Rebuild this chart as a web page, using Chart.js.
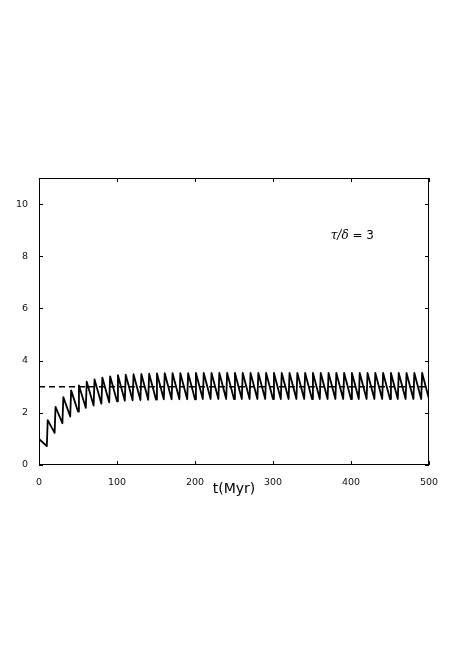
<!DOCTYPE html>
<html>
<head>
<meta charset="utf-8">
<script src="https://cdn.jsdelivr.net/npm/chart.js@4/dist/chart.umd.min.js"></script>
<style>
  html, body { margin: 0; padding: 0; background: #fff; }
  canvas { display: block; }
</style>
</head>
<body>
<canvas id="sawtooth" width="463" height="656"></canvas>
<script>
// kick times (Myr), one injection every 10 Myr
var kickTimes = [0, 10, 20, 30, 40, 50, 60, 70, 80, 90,
    100, 110, 120, 130, 140, 150, 160, 170, 180, 190,
    200, 210, 220, 230, 240, 250, 260, 270, 280, 290,
    300, 310, 320, 330, 340, 350, 360, 370, 380, 390,
    400, 410, 420, 430, 440, 450, 460, 470, 480, 490, 500];

// value right after each kick
var peaks = [1.00, 1.72, 2.23, 2.60, 2.86, 3.05, 3.19, 3.28, 3.35, 3.40,
    3.44, 3.46, 3.48, 3.49, 3.50, 3.51, 3.52, 3.52, 3.52, 3.52,
    3.53, 3.53, 3.53, 3.53, 3.53, 3.53, 3.53, 3.53, 3.53, 3.53,
    3.53, 3.53, 3.53, 3.53, 3.53, 3.53, 3.53, 3.53, 3.53, 3.53,
    3.53, 3.53, 3.53, 3.53, 3.53, 3.53, 3.53, 3.53, 3.53, 3.53];

// value just before the next kick
var troughs = [0.72, 1.23, 1.60, 1.86, 2.05, 2.19, 2.28, 2.35, 2.40, 2.44,
    2.46, 2.48, 2.49, 2.50, 2.51, 2.52, 2.52, 2.52, 2.52, 2.52,
    2.53, 2.53, 2.53, 2.53, 2.53, 2.53, 2.53, 2.53, 2.53, 2.53,
    2.53, 2.53, 2.53, 2.53, 2.53, 2.53, 2.53, 2.53, 2.53, 2.53,
    2.53, 2.53, 2.53, 2.53, 2.53, 2.53, 2.53, 2.53, 2.53, 2.53];

var riseTime = 1.2;    // Myr, the kicks are not quite vertical in the plot
var steadyLevel = 3;   // tau/delta
var xTicks = [0, 100, 200, 300, 400, 500];
var yTicks = [0, 2, 4, 6, 8, 10];

var sawPoints = [];
for (let k = 0; k < peaks.length; k++) {
    sawPoints.push({x: k === 0 ? kickTimes[k] : kickTimes[k] + riseTime, y: peaks[k]});
    sawPoints.push({x: kickTimes[k + 1], y: troughs[k]});
}

var tickFont = {family: 'DejaVu Sans', size: 9.5};

// matplotlib-style box with inward ticks on all four sides
const boxTicks = {
    id: 'boxTicks',
    afterDraw(chart) {
        const ctx = chart.ctx;
        const a = chart.chartArea;
        const xs = chart.scales.x, ys = chart.scales.y;
        ctx.save();
        ctx.strokeStyle = '#000';
        ctx.lineWidth = 1;
        ctx.strokeRect(a.left + 0.5, a.top + 0.5, a.right - a.left - 1, a.bottom - a.top - 1);
        ctx.beginPath();
        xTicks.forEach(v => {
            const px = Math.round(xs.getPixelForValue(v)) + 0.5;
            ctx.moveTo(px, a.bottom); ctx.lineTo(px, a.bottom - 4);
            ctx.moveTo(px, a.top); ctx.lineTo(px, a.top + 4);
        });
        yTicks.forEach(v => {
            const py = Math.round(ys.getPixelForValue(v)) + 0.5;
            ctx.moveTo(a.left, py); ctx.lineTo(a.left + 4, py);
            ctx.moveTo(a.right, py); ctx.lineTo(a.right - 4, py);
        });
        ctx.stroke();

        // annotation
        const tx = xs.getPixelForValue(374);
        const ty = ys.getPixelForValue(8.8);
        ctx.fillStyle = '#000';
        ctx.textBaseline = 'middle';
        ctx.textAlign = 'left';
        ctx.font = 'italic 12px "DejaVu Serif"';
        const greek = '\u03C4/\u03B4';
        ctx.fillText(greek, tx, ty);
        const w = ctx.measureText(greek).width;
        ctx.font = '12px "DejaVu Sans"';
        ctx.fillText(' = 3', tx + w, ty);
        ctx.restore();
    }
};

new Chart(document.getElementById('sawtooth').getContext('2d'), {
    type: 'line',
    data: {
        datasets: [{
            data: sawPoints,
            borderColor: '#000',
            borderWidth: 1.8,
            borderJoinStyle: 'round',
            borderCapStyle: 'butt',
            pointRadius: 0,
            tension: 0,
            fill: false
        }, {
            data: [{x: kickTimes[0], y: steadyLevel}, {x: kickTimes[kickTimes.length - 1], y: steadyLevel}],
            borderColor: '#000',
            borderWidth: 1.5,
            borderDash: [6, 4],
            pointRadius: 0,
            fill: false
        }]
    },
    options: {
        responsive: false,
        devicePixelRatio: 1,
        animation: false,
        layout: {padding: {top: 178, left: 0, right: 34, bottom: 151}},
        plugins: {legend: {display: false}, tooltip: {enabled: false}},
        scales: {
            x: {
                type: 'linear',
                min: 0, max: 500,
                afterBuildTicks: s => { s.ticks = xTicks.map(v => ({value: v})); },
                afterFit: s => { s.height = 40; },
                grid: {display: false},
                border: {display: false},
                ticks: {color: '#111', font: tickFont, padding: 4, maxRotation: 0},
                title: {
                    display: true,
                    text: 't(Myr)',
                    color: '#000',
                    font: {family: 'DejaVu Sans', size: 14},
                    padding: {top: 0, bottom: 7}
                }
            },
            y: {
                type: 'linear',
                min: 0, max: 11,
                afterBuildTicks: s => { s.ticks = yTicks.map(v => ({value: v})); },
                afterFit: s => { s.width = 39; },
                grid: {display: false},
                border: {display: false},
                ticks: {color: '#111', font: tickFont, padding: 3}
            }
        }
    },
    plugins: [boxTicks]
});
</script>
</body>
</html>
